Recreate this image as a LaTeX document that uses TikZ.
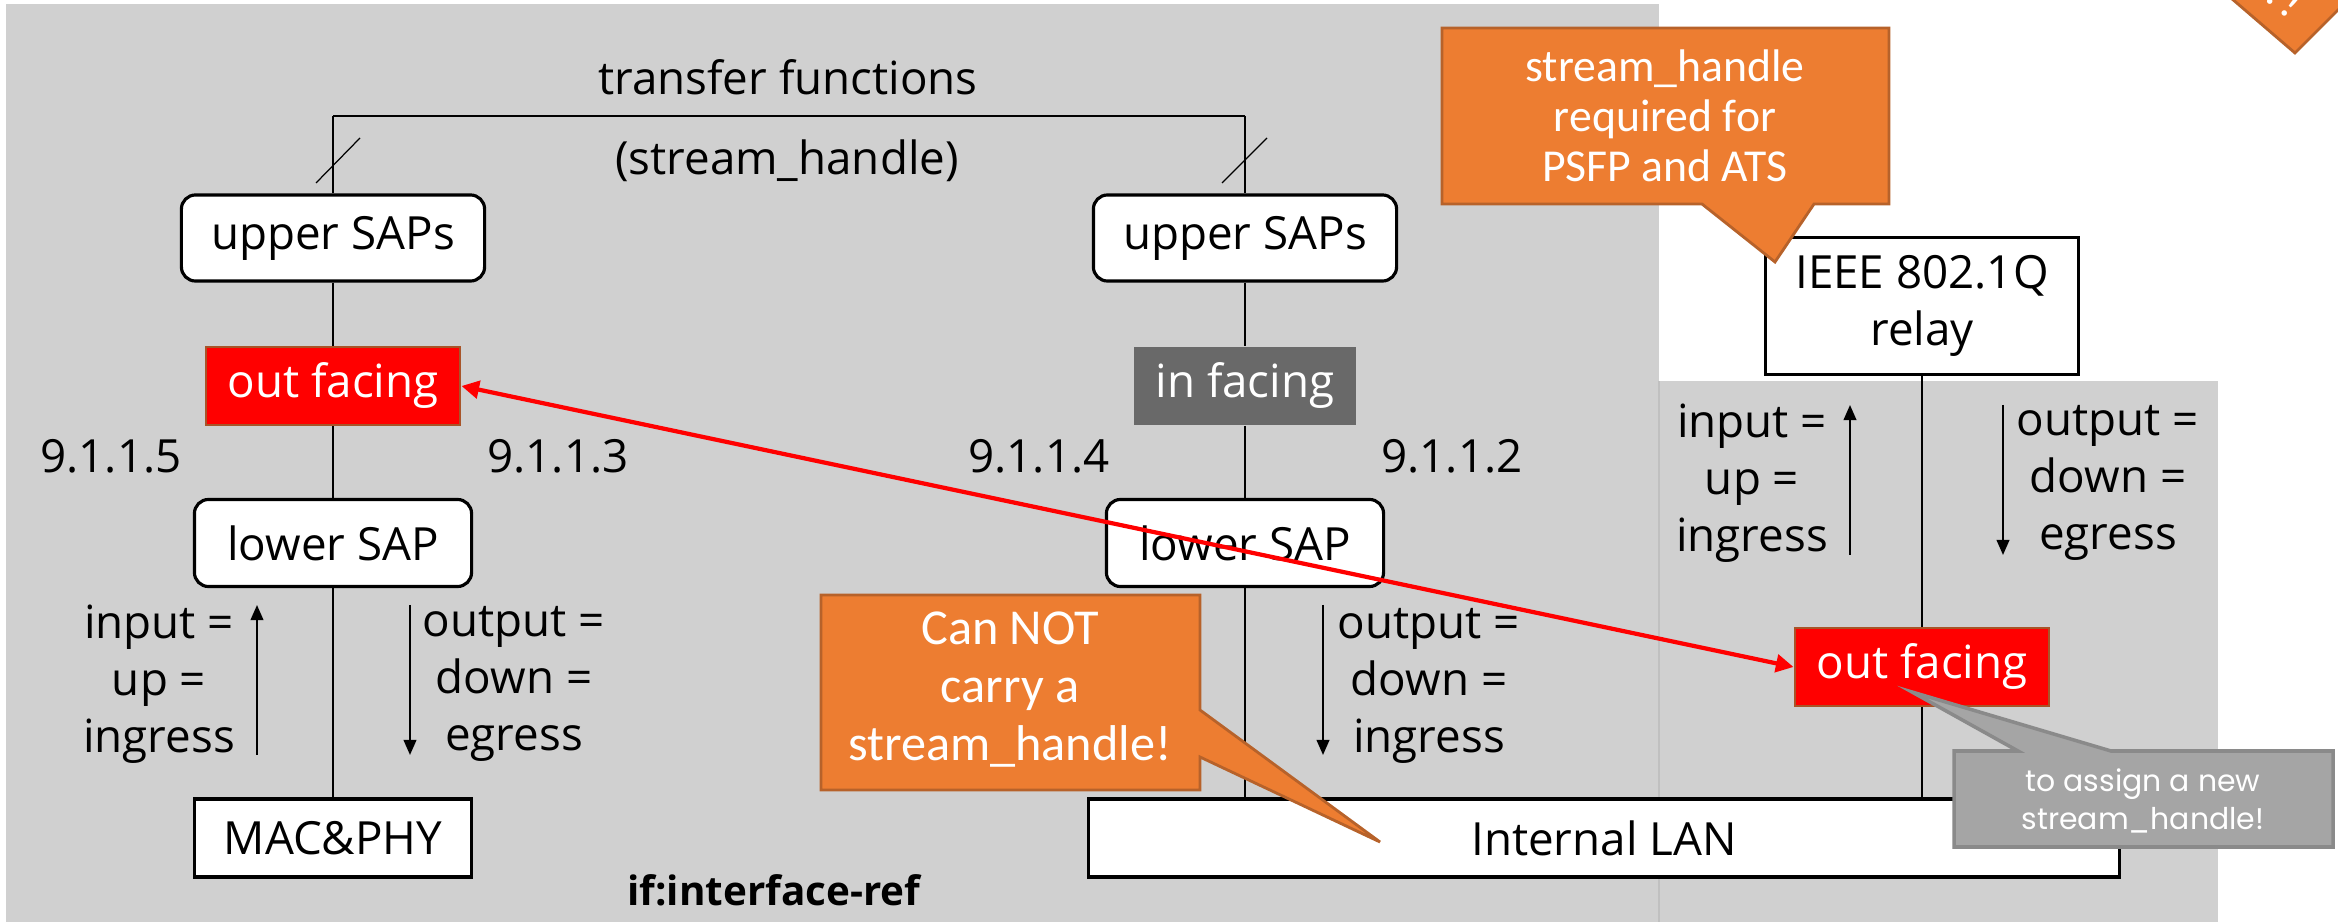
\documentclass[tikz,border=0pt]{standalone}
\usepackage{fontspec}
\setmainfont{Open Sans}
\newfontfamily\callfont{Carlito}
\newfontfamily\notefont{Poppins}
\usetikzlibrary{arrows.meta}
\definecolor{bggray}{RGB}{208,208,208}
\definecolor{seamgray}{RGB}{192,192,192}
\definecolor{infill}{RGB}{105,105,105}
\definecolor{outborder}{RGB}{168,84,40}
\definecolor{orangefill}{RGB}{237,125,49}
\definecolor{orangeedge}{RGB}{183,98,42}
\definecolor{notefill}{RGB}{165,165,165}
\definecolor{noteedge}{RGB}{138,138,138}
\newcommand\mainsz{\fontsize{13}{16.2}\selectfont}
\begin{document}
\begin{tikzpicture}[x=0.01cm,y=-0.01cm,
  base/.style={font=\mainsz, inner sep=0pt, align=center},
  sapbox/.style={base, draw, fill=white, line width=0.9pt, rounded corners=4pt},
  sqbox/.style={base, draw, fill=white, line width=0.9pt},
  outface/.style={base, fill=red, draw=outborder, line width=0.8pt, text=white,
    minimum width=2.54cm, minimum height=0.78cm},
  inface/.style={base, fill=infill, text=white},
  lbl/.style={base},
  wire/.style={line width=0.6pt},
  topwire/.style={line width=0.8pt},
  slash/.style={line width=0.35pt},
  flow/.style={line width=0.6pt, -{Triangle[length=4.3pt,width=3.6pt]}},
  redarrow/.style={red, line width=1.2pt,
    {Triangle[length=5pt,width=5pt]}-{Triangle[length=5pt,width=5pt]}},
  orangecall/.style={fill=orangefill, draw=orangeedge, line width=0.8pt},
  graycall/.style={fill=notefill, draw=noteedge, line width=1pt},
  calltext/.style={text=white, align=center, inner sep=0pt},
]
\useasboundingbox (0,0) rectangle (2338,922);
\clip (0,0) rectangle (2338,922);
\fill[white] (0,0) rectangle (2338,922);

% backgrounds
\fill[bggray] (6,4) rectangle (1659,922);
\fill[bggray] (1659,381) rectangle (2218,922);
\draw[seamgray, line width=0.4pt] (1659,381) -- (1659,922);

% top labels
\node[lbl, anchor=base] (tf) at (788,95) {transfer functions};
\node[lbl, anchor=base] (sh) at (787,175) {(stream\_handle)};

% boxes
\node[sapbox, minimum width=3.03cm, minimum height=0.86cm] (ups1) at (333,238) {upper SAPs};
\node[sapbox, minimum width=3.03cm, minimum height=0.86cm] (ups2) at (1245,238) {upper SAPs};
\node[outface] (lof) at (333,386) {out facing};
\node[inface, minimum width=2.21cm, minimum height=0.78cm] (inf) at (1245,386) {in facing};
\node[sapbox, minimum width=2.77cm, minimum height=0.87cm] (lsap1) at (333,543) {lower SAP};
\node[sapbox, minimum width=2.77cm, minimum height=0.87cm] (lsap2) at (1245,543) {lower SAP};
\node[sqbox, minimum width=2.77cm, minimum height=0.78cm] (mac) at (333,838) {MAC\&PHY};
\node[sqbox, minimum width=10.30cm, minimum height=0.78cm] (lan) at (1604,838) {Internal LAN};
\node[sqbox, minimum width=3.13cm, minimum height=1.37cm] (relay) at (1922,306) {IEEE 802.1Q\\relay};

% wires
\coordinate (tl) at (333,116);
\coordinate (tr) at (1245,116);
\draw[wire] (ups1.north) -- (tl);
\draw[topwire] (tl) -- (tr);
\draw[wire] (tr) -- (ups2.north);
\draw[wire] (ups1.south) -- (lof.north);
\draw[wire] (lof.south) -- (lsap1.north);
\draw[wire] (lsap1.south) -- (mac.north);
\draw[wire] (ups2.south) -- (inf.north);
\draw[wire] (inf.south) -- (lsap2.north);
\draw[wire] (lsap2.south) -- (lsap2.south |- lan.north);
\draw[wire] (relay.south) -- (relay.south |- lan.north);

\node[outface] (rof) at (1922,667) {out facing};

% slash marks
\draw[slash] (316,183) -- (360,138);
\draw[slash] (1222,183) -- (1267,138);

% clause numbers
\node[lbl, anchor=base] (n5) at (111,473) {9.1.1.5};
\node[lbl, anchor=base] (n3) at (558,473) {9.1.1.3};
\node[lbl, anchor=base] (n4) at (1039,473) {9.1.1.4};
\node[lbl, anchor=base] (n2) at (1452,473) {9.1.1.2};

% direction labels
\node[lbl] (in1) at (159,684) {input =\\up =\\ingress};
\node[lbl] (out1) at (514,684) {output =\\down =\\egress};
\node[lbl] (out2) at (1429,686) {output =\\down =\\ingress};
\node[lbl] (in2) at (1752,483) {input =\\up =\\ingress};
\node[lbl] (out3) at (2108,483) {output =\\down =\\egress};

\coordinate (a1s) at (257,755); \coordinate (a1e) at (257,605);
\coordinate (a2s) at (410,605); \coordinate (a2e) at (410,755);
\coordinate (a3s) at (1323,605); \coordinate (a3e) at (1323,755);
\coordinate (a4s) at (1850,555); \coordinate (a4e) at (1850,405);
\coordinate (a5s) at (2003,405); \coordinate (a5e) at (2003,555);
\draw[flow] (a1s) -- (a1e);
\draw[flow] (a2s) -- (a2e);
\draw[flow] (a3s) -- (a3e);
\draw[flow] (a4s) -- (a4e);
\draw[flow] (a5s) -- (a5e);

\node[lbl, font=\fontsize{11.5}{14}\selectfont\bfseries] (ifref) at (774,890) {if:interface-ref};

% red arrow
\draw[redarrow] (lof.east) -- (rof.west);

% callouts
\path[orangecall] (1442,28) -- (1889,28) -- (1889,204) -- (1814,204) -- (1775,262)
  -- (1702,204) -- (1442,204) -- cycle;
\node[calltext, font=\callfont\fontsize{13}{14.3}\selectfont] (c1) at (1665,116)
  {stream\_handle\\required for\\PSFP and ATS};

\path[orangecall] (821,595) -- (1200,595) -- (1200,710) -- (1380,842) -- (1200,757)
  -- (1200,790) -- (821,790) -- cycle;
\node[calltext, font=\callfont\fontsize{14.3}{16.5}\selectfont] (c2) at (1010,690)
  {Can NOT\\carry a\\stream\_handle!};

\path[graycall] (1954,751) -- (2018,751) -- (1912,692) -- (2111,751) -- (2333,751)
  -- (2333,847) -- (1954,847) -- cycle;
\node[calltext, font=\notefont\fontsize{8.5}{10.8}\selectfont] (c3) at (2143,801)
  {to assign a new\\stream\_handle!};

% corner sticker
\path[orangecall] (2210,-20) -- (2295,53) -- (2370,-22) -- cycle;
\node[calltext, font=\callfont\fontsize{13}{14}\selectfont, rotate=-40] (c4) at (2285,-3) {?!};
\end{tikzpicture}
\end{document}
